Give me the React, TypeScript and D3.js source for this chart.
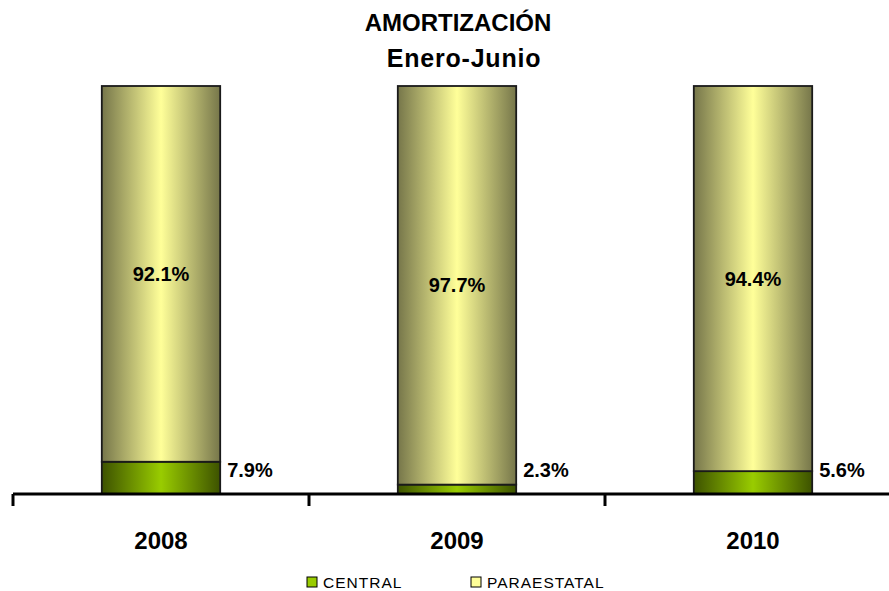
import React from "react";
import * as d3 from "d3";

const years = ["2008", "2009", "2010"];
const central = [7.9, 2.3, 5.6];
const paraestatal = [92.1, 97.7, 94.4];
const seriesNames = ["CENTRAL", "PARAESTATAL"];

const width = 889;
const height = 591;
const font = "'Liberation Sans', Arial, sans-serif";

export default function App() {
  const x = d3.scaleBand().domain(years).range([13, 901]).paddingInner(0.6).paddingOuter(0.3);
  const y = d3.scaleLinear().domain([0, 100]).range([494, 86]);

  const rows = years.map((yr, i) => ({ yr, central: central[i], para: paraestatal[i] }));
  const stack = d3.stack<any>().keys(["central", "para"])(rows);

  const fills = ["url(#gGreen)", "url(#gYellow)"];
  const bw = x.bandwidth();
  const step = x.step();
  const ticks = d3.range(years.length + 1).map((i) => 13 + i * step);

  return (
    <svg
      width={width}
      height={height}
      viewBox={`0 0 ${width} ${height}`}
      style={{ position: "absolute", left: 0, top: 0, background: "#fff" }}
    >
      <defs>
        <linearGradient id="gYellow" x1="0" x2="1" y1="0" y2="0">
          <stop offset="0" stopColor="#76764a" />
          <stop offset="0.5" stopColor="#ffff99" />
          <stop offset="1" stopColor="#76764a" />
        </linearGradient>
        <linearGradient id="gGreen" x1="0" x2="1" y1="0" y2="0">
          <stop offset="0" stopColor="#3d5200" />
          <stop offset="0.5" stopColor="#99cc00" />
          <stop offset="1" stopColor="#3d5200" />
        </linearGradient>
      </defs>

      <text x={458} y={31} textAnchor="middle" fontFamily={font} fontWeight="bold" fontSize={24}>
        AMORTIZACIÓN
      </text>
      <text x={464} y={67} textAnchor="middle" fontFamily={font} fontWeight="bold" fontSize={25} letterSpacing={0.8}>
        Enero-Junio
      </text>

      {stack.map((s, si) =>
        s.map((d, i) => (
          <rect
            key={`${si}-${i}`}
            x={x(years[i])!}
            y={y(d[1])}
            width={bw}
            height={y(d[0]) - y(d[1])}
            fill={fills[si]}
            stroke="#1a1a1a"
            strokeWidth={1.8}
          />
        ))
      )}

      {/* parastatal labels */}
      {stack[1].map((d, i) => (
        <text
          key={`lp${i}`}
          x={x(years[i])! + bw / 2}
          y={(y(d[0]) + y(d[1])) / 2}
          dy="0.35em"
          textAnchor="middle"
          fontFamily={font}
          fontWeight="bold"
          fontSize={20}
        >
          {d3.format(".1f")(paraestatal[i])}%
        </text>
      ))}

      {/* central labels */}
      {stack[0].map((d, i) => (
        <text
          key={`lc${i}`}
          x={x(years[i])! + bw + 7}
          y={Math.min((y(d[0]) + y(d[1])) / 2, y(0) - 24)}
          dy="0.35em"
          textAnchor="start"
          fontFamily={font}
          fontWeight="bold"
          fontSize={20}
        >
          {d3.format(".1f")(central[i])}%
        </text>
      ))}

      {/* axis */}
      <line x1={13} x2={width} y1={y(0)} y2={y(0)} stroke="#000" strokeWidth={3} />
      {ticks.map((t, i) => (
        <line key={`t${i}`} x1={t} x2={t} y1={y(0)} y2={y(0) + 12} stroke="#000" strokeWidth={3} />
      ))}
      {years.map((yr) => (
        <text
          key={yr}
          x={x(yr)! + bw / 2}
          y={549}
          textAnchor="middle"
          fontFamily={font}
          fontWeight="bold"
          fontSize={24}
        >
          {yr}
        </text>
      ))}

      {/* legend */}
      {seriesNames.map((n, i) => {
        const lx = i === 0 ? 307 : 471;
        return (
          <g key={n} transform={`translate(${lx},577)`}>
            <rect x={0} y={0} width={10} height={10} fill={i === 0 ? "#99cc00" : "#ffff99"} stroke="#000" strokeWidth={1} />
            <text x={16} y={11} fontFamily={font} fontSize={15.5} letterSpacing={1}>
              {n}
            </text>
          </g>
        );
      })}
    </svg>
  );
}
